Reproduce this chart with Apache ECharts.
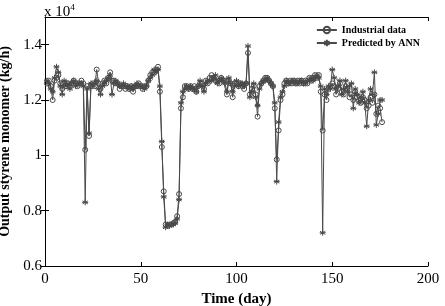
<!DOCTYPE html>
<html>
<head>
<meta charset="utf-8">
<script src="https://cdn.jsdelivr.net/npm/echarts@6/dist/echarts.min.js"></script>
<style>
  html, body { margin: 0; padding: 0; background: #fff; }
  #chart { width: 445px; height: 306px; }
</style>
</head>
<body>
<div id="chart"></div>
<script>
// days 1..176, values in units of 10^4 kg/h
const startDay = 1;
const industrial = [
  1.26, 1.27, 1.25, 1.20, 1.27, 1.28, 1.29, 1.26, 1.24, 1.26,
  1.25, 1.26, 1.25, 1.26, 1.27, 1.26, 1.25, 1.26, 1.27, 1.26,
  1.02, 1.25, 1.07, 1.25, 1.26, 1.25, 1.31, 1.26, 1.24, 1.26,
  1.27, 1.26, 1.28, 1.30, 1.27, 1.27, 1.26, 1.26, 1.24, 1.25,
  1.25, 1.24, 1.25, 1.24, 1.25, 1.23, 1.25, 1.25, 1.26, 1.25,
  1.24, 1.25, 1.25, 1.27, 1.29, 1.30, 1.30, 1.31, 1.32, 1.23,
  1.03, 0.87, 0.75, 0.745, 0.75, 0.75, 0.755, 0.76, 0.78, 0.86,
  1.17, 1.21, 1.25, 1.25, 1.24, 1.25, 1.24, 1.25, 1.23, 1.25,
  1.26, 1.26, 1.24, 1.27, 1.26, 1.28, 1.29, 1.28, 1.27, 1.27,
  1.26, 1.28, 1.27, 1.27, 1.22, 1.27, 1.26, 1.21, 1.26, 1.26,
  1.25, 1.26, 1.25, 1.24, 1.26, 1.37, 1.22, 1.24, 1.25, 1.22,
  1.14, 1.25, 1.26, 1.27, 1.28, 1.28, 1.27, 1.26, 1.25, 1.17,
  0.985, 1.09, 1.20, 1.22, 1.26, 1.27, 1.26, 1.27, 1.26, 1.27,
  1.26, 1.27, 1.26, 1.27, 1.26, 1.27, 1.26, 1.28, 1.27, 1.28,
  1.29, 1.28, 1.29, 1.23, 1.09, 1.22, 1.20, 1.24, 1.25, 1.26,
  1.25, 1.22, 1.24, 1.26, 1.23, 1.22, 1.25, 1.24, 1.21, 1.22,
  1.20, 1.23, 1.21, 1.20, 1.19, 1.21, 1.20, 1.17, 1.18, 1.21,
  1.19, 1.22, 1.15, 1.18, 1.17, 1.12
];
const predicted = [
  1.27, 1.26, 1.24, 1.23, 1.28, 1.32, 1.30, 1.25, 1.22, 1.27,
  1.25, 1.26, 1.24, 1.26, 1.27, 1.25, 1.26, 1.26, 1.26, 1.25,
  0.83, 1.24, 1.08, 1.26, 1.25, 1.26, 1.27, 1.24, 1.22, 1.25,
  1.26, 1.27, 1.28, 1.29, 1.22, 1.26, 1.27, 1.26, 1.25, 1.25,
  1.26, 1.25, 1.25, 1.24, 1.25, 1.24, 1.25, 1.26, 1.25, 1.25,
  1.25, 1.24, 1.25, 1.27, 1.28, 1.29, 1.31, 1.30, 1.31, 1.25,
  1.05, 0.85, 0.74, 0.75, 0.745, 0.75, 0.75, 0.755, 0.77, 0.84,
  1.19, 1.23, 1.24, 1.25, 1.24, 1.25, 1.24, 1.24, 1.23, 1.25,
  1.27, 1.25, 1.23, 1.26, 1.27, 1.27, 1.27, 1.28, 1.29, 1.26,
  1.27, 1.28, 1.27, 1.26, 1.23, 1.28, 1.26, 1.23, 1.25, 1.27,
  1.25, 1.26, 1.26, 1.25, 1.26, 1.395, 1.21, 1.23, 1.26, 1.21,
  1.18, 1.24, 1.26, 1.27, 1.27, 1.28, 1.27, 1.26, 1.25, 1.19,
  0.905, 1.12, 1.21, 1.23, 1.25, 1.27, 1.26, 1.26, 1.27, 1.27,
  1.26, 1.26, 1.27, 1.27, 1.26, 1.26, 1.27, 1.27, 1.28, 1.27,
  1.28, 1.29, 1.28, 1.25, 0.72, 1.24, 1.22, 1.25, 1.24, 1.31,
  1.28, 1.24, 1.25, 1.27, 1.22, 1.24, 1.27, 1.23, 1.25, 1.26,
  1.17, 1.24, 1.22, 1.19, 1.21, 1.23, 1.19, 1.105, 1.20, 1.24,
  1.22, 1.30, 1.11, 1.15, 1.20, 1.20
];
const xTicks = [0, 50, 100, 150, 200];
const yTicks = [0.6, 0.8, 1, 1.2, 1.4];

const serif = "Liberation Serif";
const lineColor = "#4a4a4a";
const star = "path://M0,-5L0,5M-4.33,-2.5L4.33,2.5M-4.33,2.5L4.33,-2.5M-5,0L5,0";

function toPairs(values) {
  let list = [];
  for (let i = 0; i < values.length; i++) {
    list.push([startDay + i, values[i]]);
  }
  return list;
}

let myChart = echarts.init(document.getElementById("chart"));
let mirrorX = {
  type: "value", min: 0, max: 200, interval: 50, position: "top",
  axisLine: { show: true, lineStyle: { color: "#000", width: 1 } },
  axisTick: { inside: true, length: 4, customValues: xTicks, lineStyle: { color: "#000" } },
  axisLabel: { show: false },
  splitLine: { show: false }
};
let mirrorY = {
  type: "value", min: 0.6, max: 1.5, interval: 0.2, position: "right",
  axisLine: { show: true, lineStyle: { color: "#000", width: 1 } },
  axisTick: { inside: true, length: 4, customValues: yTicks, lineStyle: { color: "#000" } },
  axisLabel: { show: false },
  splitLine: { show: false }
};
let option = {
  animation: false,
  backgroundColor: "#fff",
  title: {
    text: "{a|x 10}{b|4}",
    left: 44,
    top: 0,
    padding: 0,
    textStyle: {
      fontWeight: "normal",
      rich: {
        a: { fontFamily: serif, fontSize: 15, fontWeight: "normal", color: "#000", padding: [5, 0, 0, 0] },
        b: { fontFamily: serif, fontSize: 9, fontWeight: "normal", color: "#000", padding: [0, 0, 5, 0] }
      }
    }
  },
  legend: {
    right: 20,
    top: 20,
    orient: "vertical",
    itemWidth: 20,
    itemHeight: 8,
    itemGap: 3,
    textStyle: { fontFamily: serif, fontSize: 10, fontWeight: "bold", color: "#000" },
    data: ["Industrial data", "Predicted by ANN"]
  },
  grid: { left: 45, right: 17, top: 17, bottom: 40, outerBoundsMode: "none", containLabel: false },
  xAxis: [
    {
      type: "value", min: 0, max: 200, interval: 50,
      name: "Time (day)", nameLocation: "middle", nameGap: 23,
      nameTextStyle: { fontFamily: serif, fontSize: 15, fontWeight: "bold", color: "#000" },
      axisLine: { show: true, onZero: false, lineStyle: { color: "#000", width: 1 } },
      axisTick: { inside: true, length: 4, customValues: xTicks, lineStyle: { color: "#000" } },
      axisLabel: { customValues: xTicks, fontFamily: serif, fontSize: 15, color: "#000", margin: 6 },
      splitLine: { show: false }
    },
    mirrorX
  ],
  yAxis: [
    {
      type: "value", min: 0.6, max: 1.5, interval: 0.2,
      name: "Output styrene monomer (kg/h)", nameLocation: "middle", nameGap: 27,
      nameTextStyle: { fontFamily: serif, fontSize: 14, fontWeight: "bold", color: "#000" },
      axisLine: { show: true, onZero: false, lineStyle: { color: "#000", width: 1 } },
      axisTick: { inside: true, length: 4, customValues: yTicks, lineStyle: { color: "#000" } },
      axisLabel: { customValues: yTicks, fontFamily: serif, fontSize: 15, color: "#000", margin: 3 },
      splitLine: { show: false }
    },
    mirrorY
  ],
  series: [
    {
      name: "Industrial data",
      type: "line",
      data: toPairs(industrial),
      symbol: "circle",
      symbolSize: 5,
      showAllSymbol: true,
      lineStyle: { color: lineColor, width: 1 },
      itemStyle: { color: "rgba(0,0,0,0)", borderColor: lineColor, borderWidth: 1 }
    },
    {
      name: "Predicted by ANN",
      type: "line",
      data: toPairs(predicted),
      symbol: star,
      symbolSize: 6,
      showAllSymbol: true,
      lineStyle: { color: lineColor, width: 1 },
      itemStyle: { color: lineColor, borderColor: lineColor, borderWidth: 1 }
    }
  ]
};
myChart.setOption(option);
</script>
</body>
</html>
